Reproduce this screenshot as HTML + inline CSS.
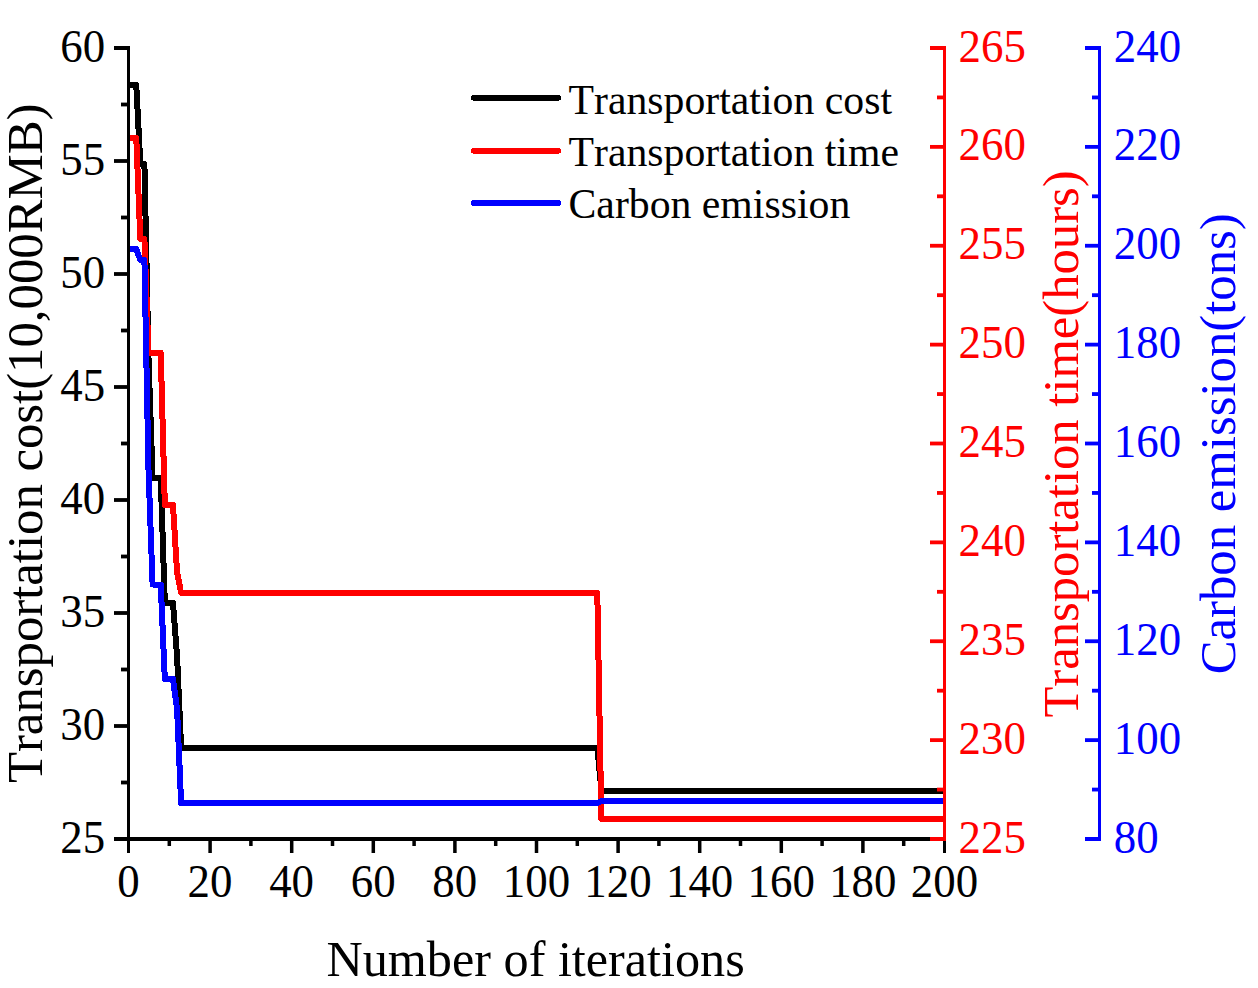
<!DOCTYPE html>
<html lang="en">
<head>
<meta charset="utf-8">
<title>Convergence of transportation cost, time and carbon emission</title>
<style>
html,body{margin:0;padding:0;background:#fff;}
body{width:1258px;height:988px;overflow:hidden;}
svg{display:block;}
svg text{font-family:"Liberation Serif","Times New Roman",serif;fill:#000;font-kerning:none;}
</style>
</head>
<body>
<svg width="1258" height="988" viewBox="0 0 1258 988">
<rect width="1258" height="988" fill="#fff"/>
<clipPath id="plot"><rect x="127" y="40" width="819" height="801"/></clipPath>
<g id="series" clip-path="url(#plot)" shape-rendering="crispEdges">
<polyline points="132.18,85 136.26,85 140.34,164 144.42,164 148.50,358 152.58,478 160.74,478 164.82,603 172.98,603 177.06,656 181.14,747.5 597.30,747.5 601.38,790.5 944.10,790.5" fill="none" stroke="#000" stroke-width="6" stroke-linejoin="round" stroke-linecap="round"/>
<polyline points="132.18,138 136.26,138 140.34,239 144.42,239 148.50,353 160.74,353 164.82,505 172.98,505 177.06,572 181.14,593 597.30,593 601.38,819 944.10,819" fill="none" stroke="#f00" stroke-width="6" stroke-linejoin="round" stroke-linecap="round"/>
<polyline points="132.18,249 136.26,249 140.34,260 144.42,260 148.50,470 152.58,584.5 160.74,584.5 164.82,679 172.98,679 177.06,709 181.14,803 597.30,803 601.38,801 944.10,801" fill="none" stroke="#00f" stroke-width="6" stroke-linejoin="round" stroke-linecap="round"/>
</g>
<g id="titles">
<text transform="translate(535.60,975.60) scale(0.9810,1)" font-size="51.2" text-anchor="middle">Number of iterations</text>
<text transform="translate(42.00,443.30) rotate(-90) scale(0.9840,1)" font-size="51.6" text-anchor="middle">Transportation cost(10,000RMB)</text>
<text transform="translate(1078.20,444.00) rotate(-90) scale(0.9820,1)" font-size="51.6" text-anchor="middle" style="fill:#f00">Transportation time(hours)</text>
<text transform="translate(1234.60,443.80) rotate(-90) scale(0.9840,1)" font-size="51.6" text-anchor="middle" style="fill:#00f">Carbon emission(tons)</text>
</g>
<g id="legend">
<line x1="474" y1="97.8" x2="558" y2="97.8" stroke="#000" stroke-width="6" stroke-linecap="round" shape-rendering="crispEdges"/>
<text transform="translate(568.50,114.10) scale(0.9760,1)" font-size="42.8" text-anchor="start">Transportation cost</text>
<line x1="474" y1="150.8" x2="558" y2="150.8" stroke="#f00" stroke-width="6" stroke-linecap="round" shape-rendering="crispEdges"/>
<text transform="translate(568.50,166.30) scale(0.9760,1)" font-size="42.8" text-anchor="start">Transportation time</text>
<line x1="474" y1="202.9" x2="558" y2="202.9" stroke="#00f" stroke-width="6" stroke-linecap="round" shape-rendering="crispEdges"/>
<text transform="translate(568.50,217.90) scale(0.9760,1)" font-size="42.8" text-anchor="start">Carbon emission</text>
</g>
<g id="ticklabels">
<text transform="translate(105.20,61.60) scale(0.9720,1)" font-size="46.2" text-anchor="end">60</text>
<text transform="translate(105.20,174.60) scale(0.9720,1)" font-size="46.2" text-anchor="end">55</text>
<text transform="translate(105.20,287.60) scale(0.9720,1)" font-size="46.2" text-anchor="end">50</text>
<text transform="translate(105.20,400.60) scale(0.9720,1)" font-size="46.2" text-anchor="end">45</text>
<text transform="translate(105.20,513.60) scale(0.9720,1)" font-size="46.2" text-anchor="end">40</text>
<text transform="translate(105.20,626.60) scale(0.9720,1)" font-size="46.2" text-anchor="end">35</text>
<text transform="translate(105.20,739.60) scale(0.9720,1)" font-size="46.2" text-anchor="end">30</text>
<text transform="translate(105.20,852.60) scale(0.9720,1)" font-size="46.2" text-anchor="end">25</text>
<text transform="translate(128.40,897.00) scale(0.9720,1)" font-size="46.2" text-anchor="middle">0</text>
<text transform="translate(210.00,897.00) scale(0.9720,1)" font-size="46.2" text-anchor="middle">20</text>
<text transform="translate(291.60,897.00) scale(0.9720,1)" font-size="46.2" text-anchor="middle">40</text>
<text transform="translate(373.20,897.00) scale(0.9720,1)" font-size="46.2" text-anchor="middle">60</text>
<text transform="translate(454.80,897.00) scale(0.9720,1)" font-size="46.2" text-anchor="middle">80</text>
<text transform="translate(536.40,897.00) scale(0.9720,1)" font-size="46.2" text-anchor="middle">100</text>
<text transform="translate(618.00,897.00) scale(0.9720,1)" font-size="46.2" text-anchor="middle">120</text>
<text transform="translate(699.60,897.00) scale(0.9720,1)" font-size="46.2" text-anchor="middle">140</text>
<text transform="translate(781.20,897.00) scale(0.9720,1)" font-size="46.2" text-anchor="middle">160</text>
<text transform="translate(862.80,897.00) scale(0.9720,1)" font-size="46.2" text-anchor="middle">180</text>
<text transform="translate(944.40,897.00) scale(0.9720,1)" font-size="46.2" text-anchor="middle">200</text>
<text transform="translate(958.60,61.60) scale(0.9720,1)" font-size="46.2" text-anchor="start" style="fill:#f00">265</text>
<text transform="translate(958.60,160.47) scale(0.9720,1)" font-size="46.2" text-anchor="start" style="fill:#f00">260</text>
<text transform="translate(958.60,259.35) scale(0.9720,1)" font-size="46.2" text-anchor="start" style="fill:#f00">255</text>
<text transform="translate(958.60,358.23) scale(0.9720,1)" font-size="46.2" text-anchor="start" style="fill:#f00">250</text>
<text transform="translate(958.60,457.10) scale(0.9720,1)" font-size="46.2" text-anchor="start" style="fill:#f00">245</text>
<text transform="translate(958.60,555.98) scale(0.9720,1)" font-size="46.2" text-anchor="start" style="fill:#f00">240</text>
<text transform="translate(958.60,654.85) scale(0.9720,1)" font-size="46.2" text-anchor="start" style="fill:#f00">235</text>
<text transform="translate(958.60,753.73) scale(0.9720,1)" font-size="46.2" text-anchor="start" style="fill:#f00">230</text>
<text transform="translate(958.60,852.60) scale(0.9720,1)" font-size="46.2" text-anchor="start" style="fill:#f00">225</text>
<text transform="translate(1113.80,61.60) scale(0.9720,1)" font-size="46.2" text-anchor="start" style="fill:#00f">240</text>
<text transform="translate(1113.80,160.47) scale(0.9720,1)" font-size="46.2" text-anchor="start" style="fill:#00f">220</text>
<text transform="translate(1113.80,259.35) scale(0.9720,1)" font-size="46.2" text-anchor="start" style="fill:#00f">200</text>
<text transform="translate(1113.80,358.23) scale(0.9720,1)" font-size="46.2" text-anchor="start" style="fill:#00f">180</text>
<text transform="translate(1113.80,457.10) scale(0.9720,1)" font-size="46.2" text-anchor="start" style="fill:#00f">160</text>
<text transform="translate(1113.80,555.98) scale(0.9720,1)" font-size="46.2" text-anchor="start" style="fill:#00f">140</text>
<text transform="translate(1113.80,654.85) scale(0.9720,1)" font-size="46.2" text-anchor="start" style="fill:#00f">120</text>
<text transform="translate(1113.80,753.73) scale(0.9720,1)" font-size="46.2" text-anchor="start" style="fill:#00f">100</text>
<text transform="translate(1113.80,852.60) scale(0.9720,1)" font-size="46.2" text-anchor="start" style="fill:#00f">80</text>
</g>
<g id="axes">
<rect x="114" y="837" width="832" height="4" fill="#000"/>
<rect x="127" y="837" width="3" height="16" fill="#000"/>
<rect x="167.55" y="837" width="3.5" height="9" fill="#000"/>
<rect x="208.35" y="837" width="3.5" height="16" fill="#000"/>
<rect x="249.15" y="837" width="3.5" height="9" fill="#000"/>
<rect x="289.95" y="837" width="3.5" height="16" fill="#000"/>
<rect x="330.75" y="837" width="3.5" height="9" fill="#000"/>
<rect x="371.55" y="837" width="3.5" height="16" fill="#000"/>
<rect x="412.35" y="837" width="3.5" height="9" fill="#000"/>
<rect x="453.15" y="837" width="3.5" height="16" fill="#000"/>
<rect x="493.95" y="837" width="3.5" height="9" fill="#000"/>
<rect x="534.75" y="837" width="3.5" height="16" fill="#000"/>
<rect x="575.55" y="837" width="3.5" height="9" fill="#000"/>
<rect x="616.35" y="837" width="3.5" height="16" fill="#000"/>
<rect x="657.15" y="837" width="3.5" height="9" fill="#000"/>
<rect x="697.95" y="837" width="3.5" height="16" fill="#000"/>
<rect x="738.75" y="837" width="3.5" height="9" fill="#000"/>
<rect x="779.55" y="837" width="3.5" height="16" fill="#000"/>
<rect x="820.35" y="837" width="3.5" height="9" fill="#000"/>
<rect x="861.15" y="837" width="3.5" height="16" fill="#000"/>
<rect x="901.95" y="837" width="3.5" height="9" fill="#000"/>
<rect x="943" y="837" width="3" height="16" fill="#000"/>
<rect x="127" y="46" width="3" height="795" fill="#000"/>
<rect x="114" y="46" width="16" height="4" fill="#000"/>
<rect x="121" y="102.6" width="9" height="3.8" fill="#000"/>
<rect x="114" y="159.1" width="16" height="3.8" fill="#000"/>
<rect x="121" y="215.6" width="9" height="3.8" fill="#000"/>
<rect x="114" y="272.1" width="16" height="3.8" fill="#000"/>
<rect x="121" y="328.6" width="9" height="3.8" fill="#000"/>
<rect x="114" y="385.1" width="16" height="3.8" fill="#000"/>
<rect x="121" y="441.6" width="9" height="3.8" fill="#000"/>
<rect x="114" y="498.1" width="16" height="3.8" fill="#000"/>
<rect x="121" y="554.6" width="9" height="3.8" fill="#000"/>
<rect x="114" y="611.1" width="16" height="3.8" fill="#000"/>
<rect x="121" y="667.6" width="9" height="3.8" fill="#000"/>
<rect x="114" y="724.1" width="16" height="3.8" fill="#000"/>
<rect x="121" y="780.6" width="9" height="3.8" fill="#000"/>
<rect x="114" y="837" width="16" height="4" fill="#000"/>
<rect x="943" y="46" width="3" height="795" fill="#f00"/>
<rect x="930" y="46" width="16" height="4" fill="#f00"/>
<rect x="937" y="95.5375" width="9" height="3.8" fill="#f00"/>
<rect x="930" y="144.975" width="16" height="3.8" fill="#f00"/>
<rect x="937" y="194.412" width="9" height="3.8" fill="#f00"/>
<rect x="930" y="243.85" width="16" height="3.8" fill="#f00"/>
<rect x="937" y="293.288" width="9" height="3.8" fill="#f00"/>
<rect x="930" y="342.725" width="16" height="3.8" fill="#f00"/>
<rect x="937" y="392.163" width="9" height="3.8" fill="#f00"/>
<rect x="930" y="441.6" width="16" height="3.8" fill="#f00"/>
<rect x="937" y="491.038" width="9" height="3.8" fill="#f00"/>
<rect x="930" y="540.475" width="16" height="3.8" fill="#f00"/>
<rect x="937" y="589.913" width="9" height="3.8" fill="#f00"/>
<rect x="930" y="639.35" width="16" height="3.8" fill="#f00"/>
<rect x="937" y="688.788" width="9" height="3.8" fill="#f00"/>
<rect x="930" y="738.225" width="16" height="3.8" fill="#f00"/>
<rect x="937" y="787.663" width="9" height="3.8" fill="#f00"/>
<rect x="930" y="837" width="16" height="4" fill="#f00"/>
<rect x="1098" y="46" width="3" height="795" fill="#00f"/>
<rect x="1085" y="46" width="16" height="4" fill="#00f"/>
<rect x="1092" y="95.5375" width="9" height="3.8" fill="#00f"/>
<rect x="1085" y="144.975" width="16" height="3.8" fill="#00f"/>
<rect x="1092" y="194.412" width="9" height="3.8" fill="#00f"/>
<rect x="1085" y="243.85" width="16" height="3.8" fill="#00f"/>
<rect x="1092" y="293.288" width="9" height="3.8" fill="#00f"/>
<rect x="1085" y="342.725" width="16" height="3.8" fill="#00f"/>
<rect x="1092" y="392.163" width="9" height="3.8" fill="#00f"/>
<rect x="1085" y="441.6" width="16" height="3.8" fill="#00f"/>
<rect x="1092" y="491.038" width="9" height="3.8" fill="#00f"/>
<rect x="1085" y="540.475" width="16" height="3.8" fill="#00f"/>
<rect x="1092" y="589.913" width="9" height="3.8" fill="#00f"/>
<rect x="1085" y="639.35" width="16" height="3.8" fill="#00f"/>
<rect x="1092" y="688.788" width="9" height="3.8" fill="#00f"/>
<rect x="1085" y="738.225" width="16" height="3.8" fill="#00f"/>
<rect x="1092" y="787.663" width="9" height="3.8" fill="#00f"/>
<rect x="1085" y="837" width="16" height="4" fill="#00f"/>
</g>
</svg>
</body>
</html>
